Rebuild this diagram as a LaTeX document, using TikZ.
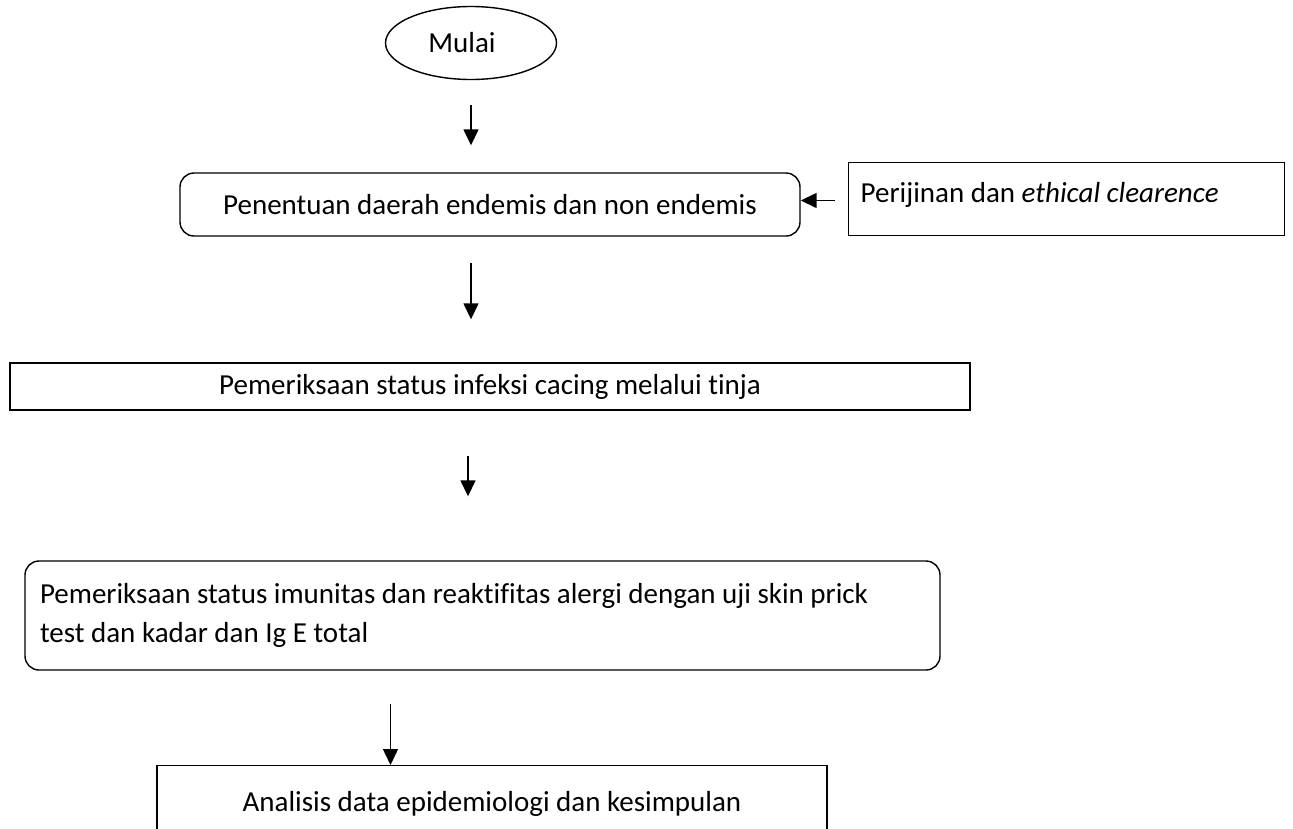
\documentclass[tikz,border=0pt]{standalone}
\usepackage{fontspec}
\setmainfont{Carlito}[Ligatures={NoCommon}]
\usetikzlibrary{shapes.geometric,arrows.meta}
\tikzset{
  flow/.style={draw, line width=1.4pt, font=\fontsize{29}{39}\selectfont, inner sep=0pt},
  rbox/.style={flow, rectangle, rounded corners=14pt},
  sbox/.style={flow, rectangle},
  conn/.style={line width=1.5pt, -{Triangle[width=15pt,length=16pt]}}
}
\begin{document}
\begin{tikzpicture}[x=1pt,y=-1pt]
\useasboundingbox (0,0) rectangle (1293,828);
\node[flow, ellipse, minimum width=171, minimum height=73] (m) at (471,43) {Mulai\hspace*{18pt}};
\node[rbox, minimum width=620, minimum height=63] (b2) at (490,204.5) {Penentuan daerah endemis dan non endemis};
\node[sbox, minimum width=436, minimum height=73, anchor=north west, text width=412, align=flush left] (p) at (848,162)
  {Perijinan dan \textit{ethical clearence}\\[-26pt]\mbox{}};
\node[sbox, minimum width=960, minimum height=47] (b3) at (490,386.5) {Pemeriksaan status infeksi cacing melalui tinja};
\node[rbox, minimum width=915, minimum height=109, text width=885, align=flush left] (b4) at (482.5,615.5)
  {Pemeriksaan status imunitas dan reaktifitas alergi dengan uji skin prick\\test dan kadar dan Ig E total};
\node[sbox, minimum width=670, minimum height=84, anchor=north] (b5) at (492,765) {\raisebox{12pt}{Analisis data epidemiologi dan kesimpulan}};
\draw[conn, shorten <=25pt, shorten >=27pt] (m.south) -- (m.south |- b2.north);
\draw[conn, shorten <=26pt, shorten >=43pt] (m.south |- b2.south) -- (m.south |- b3.north);
\draw[conn, shorten <=45pt, shorten >=64pt] ([xshift=-3pt]m.south |- b3.south) -- ([xshift=-3pt]m.south |- b4.north);
\draw[conn, shorten <=33pt] ([xshift=-92pt]b4.south) -- ([xshift=-92pt]b4.south |- b5.north);
\draw[conn, shorten <=13pt] ([yshift=4pt]b2.east -| p.west) -- ([yshift=4pt]b2.east);
\end{tikzpicture}
\end{document}
